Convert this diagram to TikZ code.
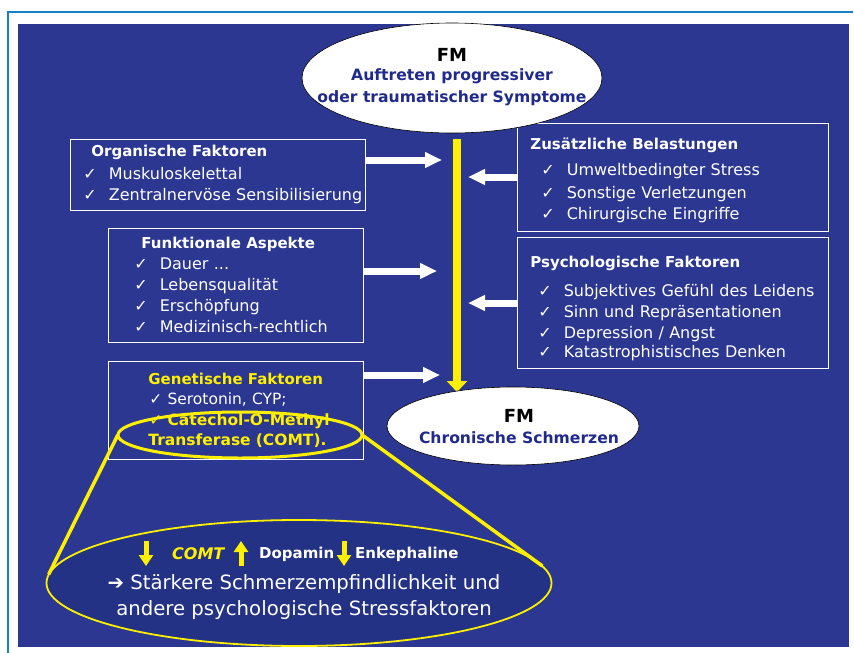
\documentclass[tikz,border=0pt]{standalone}
\usepackage{fontspec}
\setmainfont{DejaVu Sans}
\usetikzlibrary{shapes.geometric}
\usetikzlibrary{arrows.meta}
\usetikzlibrary{positioning}
\definecolor{slideblue}{RGB}{44,55,145}
\definecolor{lensblue}{RGB}{36,50,134}
\definecolor{inkblue}{RGB}{32,42,140}
\definecolor{hiyellow}{RGB}{255,240,0}
\definecolor{framecyan}{RGB}{20,130,200}
\newcommand\okmark{✓\hspace{12pt}}
\newcommand\boxtitle[1]{{\fontsize{15}{21}\selectfont\bfseries #1}}

\tikzset{
  factorbox/.style={draw=white, line width=0.8pt, anchor=north west, inner sep=0pt,
    align=left, text=white, font=\fontsize{16}{21}\selectfont},
  feedarrow/.style={white, line width=7pt, -{Triangle[length=17pt,width=15pt]}},
  spine/.style={hiyellow, line width=8pt, -{Triangle[length=11pt,width=20pt]}},
  bolt/.style={hiyellow, line width=5pt, -{Triangle[length=11pt,width=14pt]}},
  bubble/.style={ellipse, draw=black, fill=white, line width=0.6pt, inner sep=0pt},
  bubbletext/.style={align=center, text=inkblue, font=\bfseries\fontsize{15.6}{22}\selectfont},
}

\begin{document}
\begin{tikzpicture}[x=1pt, y=-1pt]
  \useasboundingbox (0,0) rectangle (854,653);

  \draw[framecyan, line width=1.2pt] (8,653) -- (8,12) -- (853,12);
  \fill[slideblue] (18,24) rectangle (849,647);

  % Faktoren
  \node[factorbox, text width=295pt, minimum height=71pt] (organ) at (70,139) {%
    \hspace*{21pt}\boxtitle{Organische Faktoren}\\[2pt]
    \hspace*{13pt}\okmark Muskuloskelettal\\
    \hspace*{13pt}\okmark Zentralnervöse Sensibilisierung};
  \node[factorbox, text width=255pt, minimum height=114pt] (funk) at (108,228) {%
    \hspace*{33pt}\boxtitle{Funktionale Aspekte}\\
    \hspace*{26pt}\okmark Dauer ...\\
    \hspace*{26pt}\okmark Lebensqualität\\
    \hspace*{26pt}\okmark Erschöpfung\\
    \hspace*{26pt}\okmark Medizinisch-rechtlich};
  \node[factorbox, text width=255pt, minimum height=98pt,
    font=\fontsize{15.5}{20.5}\selectfont] (genet) at (108,361) {%
    \hspace*{40pt}\textcolor{hiyellow}{\boxtitle{Genetische Faktoren}}\\
    \hspace*{41pt}✓ Serotonin, CYP;\\
    \hspace*{41pt}\textcolor{hiyellow}{\textbf{✓ Catechol-O-Methyl}}\\
    \hspace*{40pt}\textcolor{hiyellow}{\textbf{Transferase (COMT).}}};
  \node[factorbox, text width=311pt, minimum height=108pt] (extra) at (517,123) {%
    \rule{0pt}{17.5pt}\hspace*{13pt}\boxtitle{Zusätzliche Belastungen}\\[5pt]
    \hspace*{24pt}\okmark Umweltbedingter Stress\\[2pt]
    \hspace*{24pt}\okmark Sonstige Verletzungen\\
    \hspace*{24pt}\okmark Chirurgische Eingriffe};
  \node[factorbox, text width=311pt, minimum height=131pt] (psych) at (517,237) {%
    \rule{0pt}{23.5pt}\hspace*{13pt}\boxtitle{Psychologische Faktoren}\\[8pt]
    \hspace*{21pt}\okmark Subjektives Gefühl des Leidens\\
    \hspace*{21pt}\okmark Sinn und Repräsentationen\\
    \hspace*{21pt}\okmark Depression / Angst\\[-2pt]
    \hspace*{21pt}\okmark Katastrophistisches Denken};

  % Pfeile zur Achse
  \coordinate (in1) at (442,160);
  \coordinate (in2) at (437,271);
  \coordinate (in3) at (440,375);
  \coordinate (in4) at (468,177);
  \coordinate (in5) at (468,303);
  \draw[feedarrow] (organ.east |- in1) -- (in1);
  \draw[feedarrow] (funk.east |- in2) -- (in2);
  \draw[feedarrow] (genet.east |- in3) -- (in3);
  \draw[feedarrow] (extra.west |- in4) -- (in4);
  \draw[feedarrow] (psych.west |- in5) -- (in5);

  \coordinate (spinetop) at (457,139);
  \coordinate (spinebot) at (457,392);
  \draw[spine] (spinetop) -- (spinebot);

  % FM
  \node[bubble, minimum width=300pt, minimum height=110pt] (onset) at (452,78) {};
  \node[bubbletext] at (452,77) {%
    {\color{black}\fontsize{18}{18}\selectfont FM}\\[-3pt]
    Auftreten progressiver\\
    oder traumatischer Symptome};
  \node[bubble, minimum width=252pt, minimum height=78pt] (chronic) at (513,426) {};
  \node[bubbletext, font=\bfseries\fontsize{15.6}{21}\selectfont] at (519,427) {%
    {\color{black}\fontsize{18}{18}\selectfont FM}\\
    Chronische Schmerzen};

  % COMT
  \node[ellipse, minimum width=244pt, minimum height=46pt, inner sep=0pt] (ring) at (240,435) {};
  \node[ellipse, fill=lensblue, minimum width=505pt, minimum height=126pt, inner sep=0pt] (lens) at (299,583) {};
  \draw[hiyellow, line width=3.5pt] (ring.west) -- (lens.178);
  \draw[hiyellow, line width=3.5pt] (ring.east) -- (lens.4);
  \draw[hiyellow, line width=1.8pt] (lens.center) ellipse [x radius=252.5pt, y radius=63pt];
  \draw[hiyellow, line width=3pt] (ring.center) ellipse [x radius=122pt, y radius=23pt];

  \foreach \x/\ya/\yb in {146/541/566, 241/566/541, 344/541/566}
    \draw[bolt] (\x,\ya) -- (\x,\yb);
  \node[text=hiyellow, font=\bfseries\itshape\fontsize{16}{18}\selectfont, anchor=west, inner sep=0pt] (comt) at (172,554) {COMT};
  \node[text=white, font=\bfseries\fontsize{15}{18}\selectfont, anchor=west, inner sep=0pt] (dopa) at (259,554) {Dopamin};
  \node[text=white, font=\bfseries\fontsize{15}{18}\selectfont, anchor=west, inner sep=0pt] (enk) at (355,554) {Enkephaline};
  \node[text=white, align=center, font=\fontsize{19.7}{26}\selectfont] (stress) at (304,597) {%
    ➔ Stärkere Schmerzempfindlichkeit und\\
    andere psychologische Stressfaktoren};

\end{tikzpicture}
\end{document}
